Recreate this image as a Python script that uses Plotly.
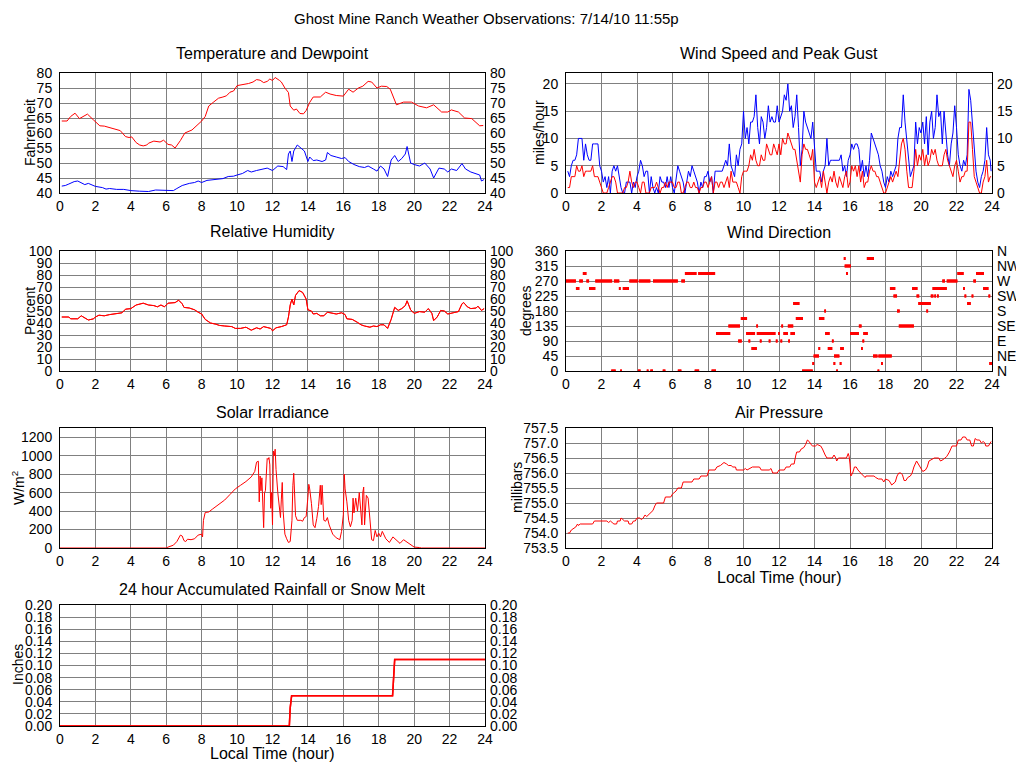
import plotly.graph_objects as go

# ---------------- data (hours since midnight) ----------------
temp_hr = [0.1, 0.4, 0.6, 0.85, 1.1, 1.3, 1.55, 1.9, 2.25, 2.5, 2.8, 3.0, 3.2, 3.4, 3.7, 3.9, 4.05, 4.3, 4.5, 4.7,
           4.9, 5.0, 5.3, 5.5, 5.65, 5.85, 6.1, 6.3, 6.5, 6.8, 7.05, 7.45, 7.7, 8.0, 8.2, 8.4, 8.65, 8.95, 9.2, 9.4,
           9.6, 9.8, 10.0, 10.35, 10.65, 10.9, 11.1, 11.3, 11.5, 11.7, 11.85, 12.0, 12.15, 12.4, 12.5, 12.7, 12.9,
           13.0, 13.2, 13.35, 13.55, 13.75, 13.9, 14.1, 14.3, 14.7, 15.0, 15.25, 15.6, 16.0, 16.3, 16.55, 16.85,
           17.1, 17.4, 17.6, 17.9, 18.15, 18.45, 18.65, 19.0, 19.4, 19.85, 20.25, 20.7, 21.1, 21.55, 21.9, 22.1,
           22.5, 22.85, 23.25, 23.7, 23.9]
temp_f = [64.0, 64.0, 65.5, 66.6, 64.8, 65.5, 66.3, 64.3, 62.4, 62.3, 61.8, 61.5, 61.0, 60.8, 58.8, 58.5, 58.7, 56.8,
          56.0, 55.7, 56.0, 56.6, 57.3, 57.2, 57.0, 57.6, 56.2, 56.0, 55.0, 57.5, 60.0, 61.0, 62.3, 64.0, 65.5, 69.0,
          70.2, 71.6, 72.0, 72.4, 73.6, 74.0, 75.8, 76.1, 76.5, 77.0, 77.8, 77.6, 76.8, 77.2, 78.0, 77.5, 78.5, 77.5,
          77.0, 75.0, 73.5, 69.0, 67.6, 68.0, 66.5, 66.4, 67.5, 70.2, 72.0, 72.0, 73.6, 73.0, 72.5, 72.3, 74.6, 73.6,
          75.0, 75.6, 77.2, 77.0, 75.0, 75.6, 75.5, 74.6, 69.4, 70.3, 70.3, 69.0, 68.4, 69.4, 67.0, 67.0, 67.7, 67.0,
          65.0, 64.8, 62.4, 62.5]

dew_hr = [0.1, 0.3, 0.5, 0.8, 1.0, 1.2, 1.4, 1.6, 2.0, 2.4, 2.6, 2.8, 3.2, 3.6, 4.0, 4.5, 5.0, 5.4, 6.0, 6.4, 6.6,
          6.9, 7.3, 7.6, 7.8, 8.0, 8.3, 8.8, 9.2, 9.5, 9.8, 10.0, 10.3, 10.6, 10.8, 11.1, 11.4, 11.7, 12.0, 12.3,
          12.6, 12.8, 12.9, 13.0, 13.1, 13.2, 13.4, 13.6, 13.8, 14.0, 14.1, 14.3, 14.5, 14.8, 15.0, 15.1, 15.3,
          15.6, 15.9, 16.1, 16.3, 16.6, 16.9, 17.2, 17.4, 17.7, 17.9, 18.1, 18.3, 18.5, 18.7, 18.9, 19.1, 19.3,
          19.5, 19.6, 19.8, 20.0, 20.3, 20.6, 20.9, 21.1, 21.4, 21.7, 21.9, 22.1, 22.4, 22.7, 22.9, 23.2, 23.5,
          23.7, 23.8, 23.95]
dew_f = [42.3, 42.5, 43.0, 43.8, 44.0, 43.3, 42.8, 43.2, 42.2, 41.8, 41.3, 41.5, 41.2, 41.2, 40.8, 40.6, 40.5, 41.0,
         41.0, 40.8, 41.5, 42.5, 43.2, 43.5, 44.0, 43.5, 44.2, 44.5, 44.8, 45.5, 45.6, 46.0, 46.5, 47.5, 47.0, 47.5,
         48.0, 48.3, 47.5, 49.0, 48.8, 47.8, 53.0, 54.0, 50.5, 54.0, 56.0, 55.0, 54.0, 50.5, 52.0, 50.8, 51.0, 50.5,
         51.0, 53.5, 52.5, 52.0, 51.5, 51.8, 50.5, 49.5, 48.8, 48.5, 49.0, 48.0, 47.3, 49.0, 48.0, 45.5, 51.0, 52.5,
         50.5, 51.5, 53.0, 55.5, 50.0, 49.5, 49.0, 50.0, 48.0, 45.0, 48.3, 48.0, 47.0, 48.0, 47.5, 49.8, 48.0, 47.0,
         46.5, 46.0, 44.0, 44.5]

wind_hr = [0.1, 0.2, 0.3, 0.4, 0.5, 0.6, 0.7, 0.8, 0.9, 1.0, 1.1, 1.2, 1.3, 1.4, 1.5, 1.6, 1.7, 1.8, 1.9, 2.0,
           2.1, 2.2, 2.3, 2.4, 2.5, 2.6, 2.7, 2.8, 2.9, 3.0, 3.1, 3.2, 3.3, 3.4, 3.5, 3.6, 3.7, 3.8, 3.9, 4.0,
           4.1, 4.2, 4.3, 4.4, 4.5, 4.6, 4.7, 4.8, 4.9, 5.0, 5.1, 5.2, 5.3, 5.4, 5.5, 5.6, 5.7, 5.8, 5.9, 6.0,
           6.1, 6.2, 6.3, 6.4, 6.5, 6.6, 6.7, 6.8, 6.9, 7.0, 7.1, 7.2, 7.3, 7.4, 7.5, 7.6, 7.7, 7.8, 7.9, 8.0,
           8.1, 8.2, 8.3, 8.4, 8.5, 8.6, 8.7, 8.8, 8.9, 9.0, 9.1, 9.2, 9.3, 9.4, 9.5, 9.6, 9.7, 9.8, 9.9, 10.0,
           10.1, 10.2, 10.3, 10.4, 10.5, 10.6, 10.7, 10.8, 10.9, 11.0, 11.1, 11.2, 11.3, 11.4, 11.5, 11.6, 11.7,
           11.8, 11.9, 12.0, 12.1, 12.2, 12.3, 12.4, 12.5, 12.6, 12.7, 12.8, 12.9, 13.0, 13.1, 13.2, 13.3, 13.4,
           13.5, 13.6, 13.7, 13.8, 13.9, 14.0, 14.1, 14.2, 14.3, 14.4, 14.5, 14.6, 14.7, 14.8, 14.9, 15.0, 15.1,
           15.2, 15.3, 15.4, 15.5, 15.6, 15.7, 15.8, 15.9, 16.0, 16.1, 16.2, 16.3, 16.4, 16.5, 16.6, 16.7, 16.8,
           16.9, 17.0, 17.1, 17.2, 17.3, 17.4, 17.5, 17.6, 17.7, 17.8, 17.9, 18.0, 18.1, 18.2, 18.3, 18.4, 18.5,
           18.6, 18.7, 18.8, 18.9, 19.0, 19.1, 19.2, 19.3, 19.4, 19.5, 19.6, 19.7, 19.8, 19.9, 20.0, 20.1, 20.2,
           20.3, 20.4, 20.5, 20.6, 20.7, 20.8, 20.9, 21.0, 21.1, 21.2, 21.3, 21.4, 21.5, 21.6, 21.7, 21.8, 21.9,
           22.0, 22.1, 22.2, 22.3, 22.4, 22.5, 22.6, 22.7, 22.8, 22.9, 23.0, 23.1, 23.2, 23.3, 23.4, 23.5, 23.6,
           23.7, 23.8, 23.9, 23.95]
gust_mph = [4, 3, 5, 6, 6, 7, 10, 10, 10, 6, 9, 7, 6, 6, 9, 9, 9, 9, 5, 4,
            2, 3, 1, 3, 0, 4, 5, 4, 5, 3, 1, 0, 0, 2, 2, 2, 0, 2, 1, 3,
            4, 6, 5, 3, 4, 4, 0, 3, 1, 0, 1, 0, 3, 2, 2, 1, 3, 1, 3, 1,
            0, 3, 5, 4, 3, 2, 0, 2, 4, 3, 5, 4, 3, 2, 0, 2, 1, 3, 3, 4,
            2, 3, 0, 4, 4, 4, 4, 4, 5, 6, 5, 9, 5, 4, 3, 7, 5, 8, 9, 15,
            10, 12, 9, 13, 13, 14, 18, 12, 9, 14, 13, 10, 12, 16, 13, 14, 13,
            13, 16, 13, 14, 15, 18, 17, 20, 15, 16, 12, 14, 18, 12, 5, 8, 15,
            13, 12, 11, 10, 13, 9, 4, 4, 4, 2, 4, 5, 10, 5, 6, 6, 6,
            6, 6, 6, 7, 4, 5, 3, 6, 7, 9, 8, 9, 9, 8, 4, 6, 3,
            5, 3, 6, 11, 10, 9, 8, 7, 5, 4, 2, 1, 3, 2, 4, 3, 4,
            5, 10, 12, 12, 18, 13, 10, 6, 3, 4, 5, 13, 9, 12, 11, 13, 9,
            14, 7, 13, 15, 10, 12, 18, 14, 15, 9, 15, 10, 7, 5, 9, 11, 16,
            12, 7, 5, 4, 6, 5, 7, 19, 17, 12, 7, 4, 2, 1, 3, 4, 6,
            12, 7, 6, 4]
speed_mph = [1, 1, 3, 3, 3, 5, 4, 4, 5, 3, 4, 4, 4, 4, 5, 3, 3, 3, 2, 1,
             0, 0, 0, 1, 2, 3, 3, 2, 0, 0, 0, 0, 1, 1, 2, 4, 2, 1, 2, 2,
             1, 0, 2, 2, 0, 0, 0, 1, 1, 1, 2, 1, 0, 1, 1, 2, 1, 2, 2, 2,
             1, 1, 2, 2, 0, 0, 1, 2, 2, 1, 1, 2, 1, 1, 0, 1, 1, 2, 2, 1,
             2, 3, 0, 2, 2, 1, 2, 2, 1, 2, 3, 1, 4, 2, 2, 2, 1, 0, 3, 4,
             4, 4, 5, 7, 6, 8, 6, 5, 5, 7, 6, 6, 9, 8, 7, 7, 9,
             8, 7, 9, 7, 10, 9, 9, 11, 10, 9, 8, 8, 6, 4, 2, 7, 9,
             8, 8, 7, 6, 8, 2, 1, 2, 3, 1, 4, 2, 0, 2, 3, 2, 4,
             2, 1, 3, 2, 1, 3, 4, 1, 2, 5, 4, 5, 3, 5, 2, 4, 1,
             2, 2, 4, 5, 4, 4, 3, 3, 2, 1, 0, 0, 1, 2, 3, 2, 3,
             4, 3, 6, 9, 10, 8, 4, 1, 1, 1, 4, 8, 5, 7, 6, 8, 5,
             7, 5, 6, 8, 7, 8, 6, 5, 5, 5, 7, 8, 6, 5, 4, 3, 5,
             6, 4, 2, 3, 3, 4, 4, 13, 13, 8, 3, 2, 1, 0, 0, 2, 3,
             6, 2, 3, 3]

rh_hr = [0.1, 0.5, 0.6, 1.0, 1.2, 1.4, 1.6, 1.9, 2.0, 2.2, 2.5, 2.8, 3.2, 3.5, 3.7, 4.0, 4.3, 4.7, 5.0, 5.3,
         5.5, 5.7, 5.9, 6.1, 6.5, 6.7, 6.9, 7.0, 7.3, 7.6, 7.8, 8.0, 8.2, 8.5, 8.8, 9.0, 9.3, 9.7, 9.9, 10.2,
         10.5, 10.8, 11.1, 11.3, 11.5, 11.9, 12.0, 12.2, 12.5, 12.8, 12.9, 13.0, 13.1, 13.2, 13.3, 13.5, 13.7,
         13.9, 14.0, 14.2, 14.3, 14.5, 14.7, 14.9, 15.1, 15.3, 15.6, 15.9, 16.1, 16.2, 16.5, 16.8, 17.0, 17.2,
         17.5, 17.7, 17.9, 18.1, 18.3, 18.5, 18.7, 18.9, 19.1, 19.3, 19.5, 19.6, 19.8, 20.0, 20.3, 20.6, 20.8,
         21.0, 21.1, 21.3, 21.5, 21.7, 21.9, 22.2, 22.5, 22.7, 22.8, 23.0, 23.2, 23.5, 23.6, 23.8, 23.95]
rh_pct = [45.0, 45.0, 43.5, 43.5, 46.0, 44.0, 42.5, 43.5, 45.0, 46.5, 46.0, 47.0, 47.5, 48.5, 51.5, 52.0, 55.0, 56.5,
          55.0, 54.5, 53.5, 55.0, 53.5, 56.5, 57.0, 59.0, 56.0, 53.0, 52.5, 51.0, 49.0, 47.5, 43.0, 40.0, 39.0, 38.0,
          37.5, 37.0, 35.5, 35.5, 36.5, 34.0, 36.0, 35.0, 37.0, 35.5, 33.5, 36.0, 37.0, 38.5, 45.0, 55.0, 60.0, 55.0,
          63.0, 67.0, 65.5, 60.0, 51.0, 50.0, 47.5, 48.0, 46.0, 46.0, 49.0, 48.5, 47.5, 48.5, 47.0, 43.5, 43.0, 40.5,
          38.5, 37.5, 36.5, 37.5, 37.0, 38.5, 38.5, 35.5, 43.0, 53.0, 50.5, 52.0, 54.5, 58.5, 51.0, 48.0, 49.5, 49.0,
          52.0, 48.0, 42.0, 45.0, 50.5, 50.0, 47.5, 48.5, 49.5, 56.0, 57.0, 53.5, 52.0, 52.5, 54.0, 50.5, 52.0]

# wind direction: runs of constant reading (start hour, end hour, degrees)
dir_start = [0.0, 0.56, 0.75, 0.95, 1.15, 1.3, 1.65, 2.55, 2.7, 2.98, 3.05, 3.2, 3.57, 4.05, 4.1, 4.55, 4.75, 4.9,
             5.45, 6.3, 6.5, 6.7, 7.25, 7.45, 8.2, 8.45, 9.15, 9.7, 9.85, 10.15, 10.28, 10.45, 10.72, 10.75, 10.92,
             11.42, 11.82, 11.95, 12.08, 12.13, 12.25, 12.52, 12.5, 12.65, 12.8, 12.95, 13.3, 13.88, 13.95, 14.22,
             14.25, 14.55, 14.6, 14.75, 14.98, 15.07, 15.1, 15.22, 15.42, 15.45, 15.65, 15.7, 15.78, 16.0, 16.5,
             16.62, 16.7, 16.75, 16.95, 17.3, 17.55, 17.6, 17.75, 18.25, 18.45, 18.65, 18.75, 19.5, 19.75, 19.85,
             20.3, 20.55, 20.65, 20.75, 20.9, 21.2, 21.45, 22.05, 22.37, 22.45, 22.6, 22.85, 22.95, 23.1, 23.5,
             23.8, 23.85]
dir_end = [0.56, 0.75, 0.95, 1.15, 1.3, 1.65, 2.6, 2.8, 3.0, 3.08, 3.15, 3.55, 4.05, 4.2, 4.75, 4.65, 4.9, 6.3,
           5.6, 6.5, 6.7, 7.35, 7.5, 8.4, 8.45, 9.25, 9.8, 9.9, 10.2, 10.65, 10.38, 10.75, 10.82, 11.8, 11.02,
           11.52, 11.92, 12.05, 12.18, 12.23, 12.5, 12.62, 12.8, 12.9, 13.15, 13.35, 13.9, 13.98, 14.25, 14.32,
           14.55, 14.65, 14.85, 15.0, 15.08, 15.17, 15.4, 15.32, 15.52, 15.65, 15.75, 16.05, 15.88, 16.5, 16.65,
           16.72, 16.8, 17.0, 17.35, 17.55, 17.65, 18.35, 17.85, 18.55, 18.65, 18.8, 19.6, 19.8, 19.9, 20.55,
           20.4, 20.7, 21.45, 20.85, 21.0, 21.35, 22.05, 22.4, 22.47, 22.55, 22.8, 22.95, 23.1, 23.55, 23.8,
           23.9, 24.0]
dir_deg = [270, 247.5, 270, 292.5, 270, 247.5, 270, 0, 270, 247.5, 0, 247.5, 270, 0, 270, 0, 0, 270,
           0, 0, 270, 292.5, 0, 292.5, 0, 112.5, 135, 90, 157.5, 112.5, 90, 67.5, 135, 112.5, 90,
           90, 90, 112.5, 90, 135, 112.5, 90, 135, 112.5, 202.5, 157.5, 0, 22.5, 45, 67.5,
           157.5, 180, 112.5, 67.5, 90, 22.5, 45, 0, 22.5, 67.5, 337.5, 315, 292.5, 112.5, 135,
           67.5, 90, 112.5, 337.5, 45, 0, 45, 22.5, 247.5, 225, 180, 135, 247.5, 225, 202.5,
           180, 225, 247.5, 225, 225, 270, 270, 292.5, 247.5, 225, 202.5, 225, 270, 292.5, 247.5,
           225, 22.5]
compass_deg = [0, 45, 90, 135, 180, 225, 270, 315, 360]
compass_lbl = ['N', 'NE', 'E', 'SE', 'S', 'SW', 'W', 'NW', 'N']

solar_hr = [0.0, 6.0, 6.1, 6.4, 6.6, 6.8, 6.9, 7.0, 7.1, 7.2, 7.4, 7.6, 7.8, 8.0, 8.05, 8.1, 8.2, 8.4, 8.6, 8.8,
            9.0, 9.3, 9.6, 9.9, 10.2, 10.5, 10.8, 11.0, 11.1, 11.2, 11.25, 11.3, 11.35, 11.4, 11.5, 11.55, 11.6,
            11.7, 11.75, 11.8, 11.85, 11.9, 11.95, 12.0, 12.05, 12.1, 12.15, 12.2, 12.3, 12.4, 12.45, 12.5, 12.55,
            12.6, 12.7, 12.8, 12.9, 13.0, 13.1, 13.15, 13.2, 13.3, 13.4, 13.6, 13.7, 13.8, 13.9, 14.0, 14.05,
            14.1, 14.2, 14.3, 14.4, 14.5, 14.6, 14.7, 14.75, 14.8, 14.9, 15.0, 15.1, 15.2, 15.4, 15.6, 15.8,
            15.9, 16.0, 16.05, 16.1, 16.2, 16.3, 16.4, 16.5, 16.55, 16.6, 16.7, 16.8, 16.9, 17.0, 17.05, 17.1,
            17.15, 17.2, 17.25, 17.3, 17.4, 17.5, 17.6, 17.7, 17.8, 17.9, 18.0, 18.1, 18.2, 18.4, 18.6, 18.8,
            19.0, 19.2, 19.4, 19.6, 19.8, 20.0, 20.3, 20.4, 24.0]
solar_wm2 = [0, 0, 10, 30, 70, 140, 130, 80, 70, 95, 90, 100, 140, 150, 120, 300, 385, 390, 420, 450,
             480, 520, 580, 640, 680, 720, 770, 830, 930, 940, 500, 780, 620, 760, 220, 600, 620,
             970, 960, 980, 900, 430, 600, 250, 1050, 1000, 1070, 850, 600, 450, 330, 530, 710,
             400, 150, 100, 60, 70, 300, 680, 810, 350, 300, 300, 290, 330, 340, 550, 690,
             640, 480, 250, 220, 320, 450, 680, 470, 680, 300, 290, 330, 250, 150, 110, 90,
             180, 360, 800, 640, 500, 300, 230, 300, 540, 380, 540, 400, 600, 300, 250, 600,
             660, 250, 500, 570, 540, 350, 90, 80, 190, 120, 160, 120, 180, 100, 60, 120,
             90, 50, 90, 60, 30, 10, 5, 0, 0]

pres_hr = [0.1, 0.2, 0.3, 0.45, 0.55, 0.65, 0.7, 0.8, 1.5, 1.6, 2.3, 2.4, 2.5, 2.6, 2.7, 2.85, 2.9, 3.05, 3.1,
           3.2, 3.3, 3.5, 3.55, 3.7, 3.8, 3.9, 4.0, 4.15, 4.25, 4.35, 4.45, 4.55, 4.65, 4.8, 4.9, 5.0, 5.1, 5.5,
           5.6, 5.9, 6.0, 6.2, 6.3, 6.5, 6.6, 7.1, 7.2, 7.5, 7.6, 7.95, 8.05, 8.4, 8.5, 8.7, 8.9, 9.05, 9.15,
           9.3, 9.4, 9.55, 9.6, 10.0, 10.1, 10.2, 10.4, 10.5, 10.9, 11.0, 11.45, 11.55, 11.65, 11.9, 12.0, 12.3,
           12.4, 12.6, 12.7, 12.85, 12.95, 13.0, 13.15, 13.25, 13.4, 13.5, 13.6, 13.7, 13.8, 13.9, 14.05, 14.15,
           14.35, 14.45, 14.6, 14.7, 15.0, 15.1, 15.2, 15.25, 15.35, 15.8, 15.9, 15.95, 16.0, 16.05, 16.15,
           16.25, 16.35, 16.45, 16.6, 16.8, 16.85, 16.9, 17.35, 17.45, 17.6, 17.8, 17.9, 18.0, 18.2, 18.35,
           18.55, 18.65, 18.75, 18.85, 18.95, 19.05, 19.15, 19.25, 19.4, 19.5, 19.6, 19.75, 19.85, 19.95, 20.1,
           20.25, 20.35, 20.45, 20.6, 20.75, 21.0, 21.1, 21.25, 21.45, 21.6, 21.75, 22.0, 22.1, 22.25, 22.35,
           22.5, 22.6, 22.75, 22.85, 22.95, 23.05, 23.15, 23.3, 23.4, 23.5, 23.6, 23.65, 23.8, 23.95]
pres_mb = [754.0, 754.0, 754.1, 754.15, 754.2, 754.3, 754.25, 754.3, 754.3, 754.4, 754.4, 754.35, 754.4, 754.35,
           754.3, 754.3, 754.4, 754.4, 754.5, 754.45, 754.4, 754.4, 754.3, 754.3, 754.4, 754.4, 754.5, 754.5,
           754.45, 754.5, 754.6, 754.55, 754.6, 754.7, 754.75, 754.9, 755.0, 755.0, 755.2, 755.2, 755.3, 755.4,
           755.5, 755.5, 755.7, 755.7, 755.8, 755.8, 755.9, 755.9, 756.1, 756.1, 756.2, 756.25, 756.35, 756.3,
           756.25, 756.25, 756.2, 756.2, 756.1, 756.1, 756.15, 756.1, 756.15, 756.2, 756.2, 756.1, 756.1, 756.15,
           756.0, 756.0, 756.1, 756.1, 756.2, 756.2, 756.3, 756.3, 756.6, 756.7, 756.7, 756.8, 756.85, 756.95,
           757.1, 757.05, 756.95, 756.9, 756.9, 756.95, 756.9, 756.8, 756.6, 756.5, 756.5, 756.6, 756.5, 756.4,
           756.5, 756.5, 756.65, 756.55, 756.3, 755.9, 756.0, 756.2, 756.2, 756.1, 756.0, 755.9, 755.85, 755.9,
           755.9, 755.85, 755.8, 755.8, 755.7, 755.8, 755.75, 755.6, 755.7, 755.9, 756.0, 756.0, 755.95, 755.75,
           755.75, 755.85, 755.9, 756.0, 756.2, 756.4, 756.3, 756.2, 756.05, 756.1, 756.2, 756.4, 756.45, 756.5,
           756.5, 756.4, 756.45, 756.55, 756.7, 756.9, 756.9, 757.1, 757.1, 757.2, 757.2, 757.1, 757.1, 756.9,
           756.9, 757.15, 757.1, 757.1, 757.0, 757.05, 757.0, 756.9, 756.9, 757.05]

rain_hr = [0.0, 12.95, 13.0, 13.08, 18.78, 18.85, 18.9, 24.0]
rain_in = [0.0, 0.0, 0.03, 0.05, 0.05, 0.09, 0.11, 0.11]

# ---------------- layout helpers ----------------
# the page body has an 8px margin, so the figure is drawn 8px in and sized to end at the window edge
OFF = 8
W, H = 1024 - OFF, 768 - OFF
FONT = 'Liberation Sans, Arial, sans-serif'
RED, BLUE = '#ff0000', '#0000ff'
LX, RX = (60, 485), (566, 992)   # pixel columns of the plot areas (window coords)
ROWS = [(73, 193), (251, 371), (428, 548), (605, 726)]


def fx(x):
    return (x - OFF) / W


def fy(y):
    return 1 - (y - OFF) / H


def xdom(c):
    return [fx(c[0]), fx(c[1])]


def ydom(r):
    return [fy(r[1]), fy(r[0])]


tf = dict(family=FONT, size=14, color='black')
base = dict(showgrid=True, gridcolor='#808080', gridwidth=1, showline=True, linecolor='black',
            linewidth=1, mirror=True, ticks='', zeroline=False, automargin=False, tickfont=tf)
right = dict(showgrid=False, showline=False, zeroline=False, ticks='', side='right', automargin=False,
             tickfont=tf, ticklabelstandoff=4)
xt = dict(range=[0, 24], tickvals=list(range(0, 25, 2)), **base)

fig = go.Figure()
ln = lambda c: dict(color=c, width=1)

# second copy / second series of each panel goes on the right-hand twin axis so its labels are drawn
fig.add_trace(go.Scatter(x=temp_hr, y=temp_f, mode='lines', line=ln(RED), xaxis='x', yaxis='y'))
fig.add_trace(go.Scatter(x=dew_hr, y=dew_f, mode='lines', line=ln(BLUE), xaxis='x', yaxis='y8'))
fig.add_trace(go.Scatter(x=wind_hr, y=gust_mph, mode='lines', line=ln(BLUE), xaxis='x2', yaxis='y2'))
fig.add_trace(go.Scatter(x=wind_hr, y=speed_mph, mode='lines', line=ln(RED), xaxis='x2', yaxis='y9'))
fig.add_trace(go.Scatter(x=rh_hr, y=rh_pct, mode='lines', line=ln(RED), xaxis='x3', yaxis='y3'))
fig.add_trace(go.Scatter(x=rh_hr, y=rh_pct, mode='lines', line=ln(RED), xaxis='x3', yaxis='y10'))

dx, dy = [], []
for s, e, d in zip(dir_start, dir_end, dir_deg):
    dx += [s, e, None]
    dy += [d, d, None]
fig.add_trace(go.Scatter(x=dx, y=dy, mode='lines', line=dict(color=RED, width=3), xaxis='x4', yaxis='y4'))
fig.add_trace(go.Scatter(x=dx, y=dy, mode='lines', line=dict(color=RED, width=3), xaxis='x4', yaxis='y11'))

fig.add_trace(go.Scatter(x=solar_hr, y=solar_wm2, mode='lines', line=ln(RED), xaxis='x5', yaxis='y5'))
fig.add_trace(go.Scatter(x=pres_hr, y=pres_mb, mode='lines', line=ln(RED), xaxis='x6', yaxis='y6'))
rl = dict(color=RED, width=1.5)
fig.add_trace(go.Scatter(x=rain_hr, y=rain_in, mode='lines', line=rl, xaxis='x7', yaxis='y7'))
fig.add_trace(go.Scatter(x=rain_hr, y=rain_in, mode='lines', line=rl, xaxis='x7', yaxis='y12'))

panels = [
    (1, LX, ROWS[0], dict(range=[40, 80], dtick=5)),
    (2, RX, ROWS[0], dict(range=[0, 22], tickvals=[0, 5, 10, 15, 20])),
    (3, LX, ROWS[1], dict(range=[0, 100], dtick=10)),
    (4, RX, ROWS[1], dict(range=[0, 360], tickvals=compass_deg)),
    (5, LX, ROWS[2], dict(range=[0, 1300], tickvals=[0, 200, 400, 600, 800, 1000, 1200])),
    (6, RX, ROWS[2], dict(range=[753.5, 757.5], dtick=0.5, tickformat='.1f')),
    (7, LX, ROWS[3], dict(range=[0, 0.2], dtick=0.02, tickformat='.2f')),
]
lay = {}
for i, col, row, yk in panels:
    sfx = '' if i == 1 else str(i)
    lay['xaxis' + sfx] = dict(domain=xdom(col), anchor='y' + sfx, **xt)
    lay['yaxis' + sfx] = dict(domain=ydom(row), anchor='x' + sfx, ticklabelstandoff=4, **yk, **base)

# right-hand duplicate tick labels
twins = [(8, 1, dict(range=[40, 80], dtick=5)),
         (9, 2, dict(range=[0, 22], tickvals=[0, 5, 10, 15, 20])),
         (10, 3, dict(range=[0, 100], dtick=10)),
         (11, 4, dict(range=[0, 360], tickvals=compass_deg, ticktext=compass_lbl)),
         (12, 7, dict(range=[0, 0.2], dtick=0.02, tickformat='.2f'))]
for j, i, yk in twins:
    sfx = '' if i == 1 else str(i)
    lay['yaxis' + str(j)] = dict(overlaying='y' + sfx, anchor='x' + sfx, **yk, **right)

ann = []


def text(x, y, s, size=16, angle=0):
    ann.append(dict(x=fx(x), y=fy(y), xref='paper', yref='paper', text=s, showarrow=False,
                    textangle=angle, xanchor='center', yanchor='middle',
                    font=dict(family=FONT, size=size, color='black')))


text(486, 18, 'Ghost Mine Ranch Weather Observations: 7/14/10 11:55p', 15)
text(272, 53, 'Temperature and Dewpoint')
text(779, 53, 'Wind Speed and Peak Gust')
text(272, 231, 'Relative Humidity')
text(779, 233, 'Wind Direction')
text(272, 412, 'Solar Irradiance')
text(779, 412, 'Air Pressure')
text(272, 589, '24 hour Accumulated Rainfall or Snow Melt')
text(779, 577, 'Local Time (hour)')
text(272, 753, 'Local Time (hour)')
text(30, 133, 'Fahrenheit', 14, -90)
text(539, 133, 'miles/hour', 14, -90)
text(30, 311, 'Percent', 14, -90)
text(526, 311, 'degrees', 14, -90)
text(18, 488, 'W/m<sup>2</sup>', 14, -90)
text(517, 488, 'millibars', 14, -90)
text(18, 665, 'Inches', 14, -90)

fig.update_layout(width=W, height=H, autosize=False, margin=dict(l=0, r=0, t=0, b=0),
                  paper_bgcolor='white', plot_bgcolor='white', showlegend=False,
                  font=dict(family=FONT, size=14, color='black'), annotations=ann, **lay)
fig.write_html('out.html')
